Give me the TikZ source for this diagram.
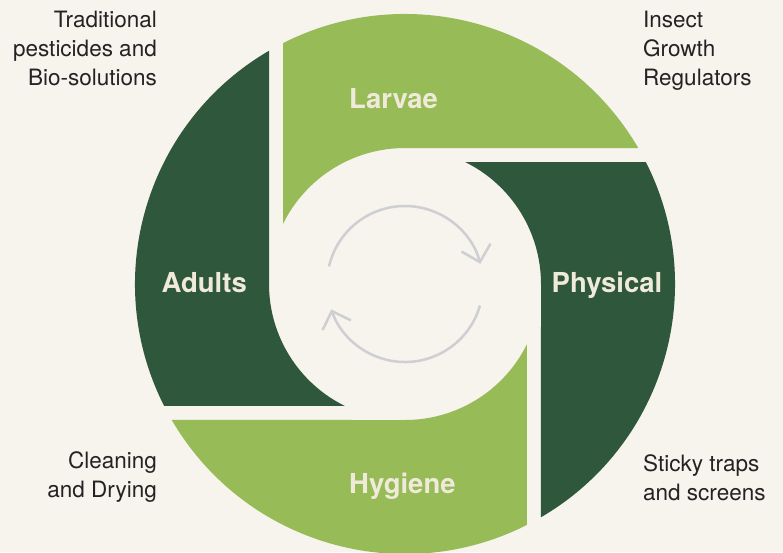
\documentclass[tikz,border=0pt]{standalone}
\usepackage{fontspec}
\setmainfont{TeX Gyre Heros}
\usepackage{tikz}
\usetikzlibrary{arrows.meta}
\definecolor{myCream}{RGB}{247,243,237}
\definecolor{myLightGreen}{RGB}{151,187,86}
\definecolor{myDarkGreen}{RGB}{46,87,60}
\definecolor{myLabel}{RGB}{240,234,218}
\definecolor{myGray}{RGB}{206,207,210}
\definecolor{myText}{RGB}{35,35,35}

\begin{document}
\begin{tikzpicture}[%
    x=1pt, y=1pt,
    every node/.style={inner sep=0pt},
    stage/.style={
        anchor=base west,
        text=myLabel,
        font=\fontsize{27.5}{30}\selectfont\bfseries,
    },
    note/.style={
        text=myText,
        font=\fontsize{22.5}{28.5}\selectfont,
    },
    cycle/.style={
        myGray,
        line width=2.5pt,
        -{Straight Barb[length=15pt,width=30pt]},
    },
]
% background and page size
\fill[myCream] (-405,-268) rectangle (378,284);
\useasboundingbox (-405,-268) rectangle (378,284);

% draw the four segments of the ring
\foreach \ang/\col in {0/myLightGreen,-90/myDarkGreen,-180/myLightGreen,90/myDarkGreen}{
    \fill[\col,rotate=\ang] (0,136) -- (30.24:270)
        arc[start angle=30.24,end angle=116.86,radius=270]
        -- (153.77:136) arc[start angle=153.77,end angle=90,radius=136] -- cycle;
}

% place segment labels
\node[stage] (larvae) at (-56,176) {Larvae};
\node[stage] (physical) at (146.5,-8) {Physical};
\node[stage] (hygiene) at (-56,-209) {Hygiene};
\node[stage] (adults) at (-243.5,-8) {Adults};

% draw the cycle arrows in the middle
\draw[cycle] (167:78) arc[start angle=167,end angle=15,radius=78];
\draw[cycle] (-16:78) arc[start angle=-16,end angle=-161,radius=78];

% place notes round the ring (base = last line)
\node[note,align=right,anchor=base east] (pesticides) at (-248,199)
    {Traditional\\pesticides and\\Bio-solutions};
\node[note,align=left,anchor=base west] (regulators) at (238,199)
    {Insect\\Growth\\Regulators};
\node[note,align=right,anchor=base east] (cleaning) at (-248,-213)
    {Cleaning\\and Drying};
\node[note,align=left,anchor=base west] (traps) at (238,-216)
    {Sticky traps\\and screens};

\end{tikzpicture}
\end{document}
